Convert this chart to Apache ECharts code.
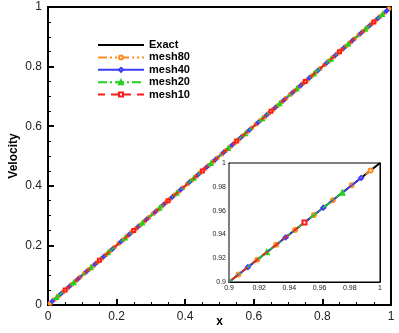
<!DOCTYPE html>
<html>
<head>
<meta charset="utf-8">
<script src="https://cdn.jsdelivr.net/npm/echarts@6/dist/echarts.min.js"></script>
<style>
  html, body { margin: 0; padding: 0; background: #fff; }
  #chart { width: 399px; height: 333px; }
</style>
</head>
<body>
<div id="chart"></div>
<script>
// exact solution
var xExact = [0, 1];
var vExact = [0, 1];

// mesh80 (cell centres)
var x80 = [
  0.00625, 0.01875, 0.03125, 0.04375, 0.05625, 0.06875, 0.08125, 0.09375,
  0.10625, 0.11875, 0.13125, 0.14375, 0.15625, 0.16875, 0.18125, 0.19375,
  0.20625, 0.21875, 0.23125, 0.24375, 0.25625, 0.26875, 0.28125, 0.29375,
  0.30625, 0.31875, 0.33125, 0.34375, 0.35625, 0.36875, 0.38125, 0.39375,
  0.40625, 0.41875, 0.43125, 0.44375, 0.45625, 0.46875, 0.48125, 0.49375,
  0.50625, 0.51875, 0.53125, 0.54375, 0.55625, 0.56875, 0.58125, 0.59375,
  0.60625, 0.61875, 0.63125, 0.64375, 0.65625, 0.66875, 0.68125, 0.69375,
  0.70625, 0.71875, 0.73125, 0.74375, 0.75625, 0.76875, 0.78125, 0.79375,
  0.80625, 0.81875, 0.83125, 0.84375, 0.85625, 0.86875, 0.88125, 0.89375,
  0.90625, 0.91875, 0.93125, 0.94375, 0.95625, 0.96875, 0.98125, 0.99375
];
var v80 = [
  0.00625, 0.01875, 0.03125, 0.04375, 0.05625, 0.06875, 0.08125, 0.09375,
  0.10625, 0.11875, 0.13125, 0.14375, 0.15625, 0.16875, 0.18125, 0.19375,
  0.20625, 0.21875, 0.23125, 0.24375, 0.25625, 0.26875, 0.28125, 0.29375,
  0.30625, 0.31875, 0.33125, 0.34375, 0.35625, 0.36875, 0.38125, 0.39375,
  0.40625, 0.41875, 0.43125, 0.44375, 0.45625, 0.46875, 0.48125, 0.49375,
  0.50625, 0.51875, 0.53125, 0.54375, 0.55625, 0.56875, 0.58125, 0.59375,
  0.60625, 0.61875, 0.63125, 0.64375, 0.65625, 0.66875, 0.68125, 0.69375,
  0.70625, 0.71875, 0.73125, 0.74375, 0.75625, 0.76875, 0.78125, 0.79375,
  0.80625, 0.81875, 0.83125, 0.84375, 0.85625, 0.86875, 0.88125, 0.89375,
  0.90625, 0.91875, 0.93125, 0.94375, 0.95625, 0.96875, 0.98125, 0.99375
];

// mesh40
var x40 = [
  0.0125, 0.0375, 0.0625, 0.0875, 0.1125, 0.1375, 0.1625, 0.1875,
  0.2125, 0.2375, 0.2625, 0.2875, 0.3125, 0.3375, 0.3625, 0.3875,
  0.4125, 0.4375, 0.4625, 0.4875, 0.5125, 0.5375, 0.5625, 0.5875,
  0.6125, 0.6375, 0.6625, 0.6875, 0.7125, 0.7375, 0.7625, 0.7875,
  0.8125, 0.8375, 0.8625, 0.8875, 0.9125, 0.9375, 0.9625, 0.9875
];
var v40 = [
  0.0125, 0.0375, 0.0625, 0.0875, 0.1125, 0.1375, 0.1625, 0.1875,
  0.2125, 0.2375, 0.2625, 0.2875, 0.3125, 0.3375, 0.3625, 0.3875,
  0.4125, 0.4375, 0.4625, 0.4875, 0.5125, 0.5375, 0.5625, 0.5875,
  0.6125, 0.6375, 0.6625, 0.6875, 0.7125, 0.7375, 0.7625, 0.7875,
  0.8125, 0.8375, 0.8625, 0.8875, 0.9125, 0.9375, 0.9625, 0.9875
];

// mesh20
var x20 = [
  0.025, 0.075, 0.125, 0.175, 0.225, 0.275, 0.325, 0.375, 0.425, 0.475,
  0.525, 0.575, 0.625, 0.675, 0.725, 0.775, 0.825, 0.875, 0.925, 0.975
];
var v20 = [
  0.025, 0.075, 0.125, 0.175, 0.225, 0.275, 0.325, 0.375, 0.425, 0.475,
  0.525, 0.575, 0.625, 0.675, 0.725, 0.775, 0.825, 0.875, 0.925, 0.975
];

// mesh10
var x10 = [0.05, 0.15, 0.25, 0.35, 0.45, 0.55, 0.65, 0.75, 0.85, 0.95];
var v10 = [0.05, 0.15, 0.25, 0.35, 0.45, 0.55, 0.65, 0.75, 0.85, 0.95];

var names = ['Exact', 'mesh80', 'mesh40', 'mesh20', 'mesh10'];
var xs = [xExact, x80, x40, x20, x10];
var vs = [vExact, v80, v40, v20, v10];

var colors = ['#000000', '#ff8c1a', '#3b3bff', '#1fd11f', '#ff1a1a'];
var symbols = ['none', 'emptyCircle', 'emptyDiamond', 'emptyTriangle', 'emptyRect'];
var dashes = ['solid', [9, 3, 2, 3, 2, 3], 'solid', [9, 3, 2, 3], [7, 6]];

var font = 'Liberation Sans, Arial, sans-serif';

function pairs(a, b) {
  var out = [];
  for (var i = 0; i < a.length; i++) out.push([a[i], b[i]]);
  return out;
}

var chart = echarts.init(document.getElementById('chart'), null, { renderer: 'canvas' });

var series = [];
[0, 1].forEach(function (g) {
  names.forEach(function (n, k) {
    series.push({
      name: n,
      type: 'line',
      xAxisIndex: g,
      yAxisIndex: g,
      data: pairs(xs[k], vs[k]),
      symbol: symbols[k],
      symbolSize: g === 0 ? 3 : 4,
      showSymbol: true,
      clip: true,
      silent: true,
      animation: false,
      z: 2 + k + g * 10,
      lineStyle: { color: colors[k], width: k === 0 ? 2 : 1.5, type: dashes[k] },
      itemStyle: { color: colors[k], borderWidth: 1 }
    });
  });
});

function mainAxis(isX) {
  return {
    type: 'value',
    gridIndex: 0,
    min: 0, max: 1, interval: 0.2,
    name: isX ? 'x' : 'Velocity',
    nameLocation: 'middle',
    nameGap: isX ? 11 : 28,
    nameMoveOverlap: false,
    nameTextStyle: { fontFamily: font, fontWeight: 'bold', fontSize: 12, color: '#000' },
    axisLine: { show: true, onZero: false, lineStyle: { color: '#000', width: 2 } },
    axisTick: { show: true, inside: true, length: 6, lineStyle: { color: '#000', width: 2 } },
    minorTick: { show: true, splitNumber: 4, length: 3, lineStyle: { color: '#000', width: 1 } },
    axisLabel: { fontFamily: font, fontSize: 12, color: '#222', margin: 6 },
    splitLine: { show: false }
  };
}

function insetAxis(isX) {
  return {
    type: 'value',
    gridIndex: 1,
    min: 0.9, max: 1, interval: 0.02,
    axisLine: { show: true, onZero: false, lineStyle: { color: '#000', width: 1 } },
    axisTick: { show: true, inside: true, length: 4, lineStyle: { color: '#000' } },
    minorTick: { show: true, splitNumber: 4, length: 2, lineStyle: { color: '#000' } },
    axisLabel: {
      fontFamily: font, fontSize: 7, color: '#222', margin: 3,
      formatter: function (v) { return String(+v.toFixed(2)); }
    },
    splitLine: { show: false }
  };
}

function mirror(isX) {
  var a = insetAxis(isX);
  a.position = isX ? 'top' : 'right';
  a.axisLabel = { show: false };
  return a;
}

var legendData = names.map(function (n, k) {
  // plain line for the exact solution
  return k === 0 ? { name: n, icon: 'path://M0 0H46V2H0Z' } : { name: n };
});

chart.setOption({
  backgroundColor: '#fff',
  animation: false,
  legend: {
    data: legendData,
    orient: 'vertical',
    left: 97,
    top: 39,
    padding: 0,
    itemWidth: 46,
    itemHeight: 5,
    itemGap: 0.4,
    selectedMode: false,
    textStyle: { fontFamily: font, fontWeight: 'bold', fontSize: 11, lineHeight: 12, color: '#000' }
  },
  grid: [
    { left: 48, right: 8, top: 7, bottom: 28, outerBoundsMode: 'none', show: true, borderColor: '#000', borderWidth: 2, backgroundColor: 'transparent' },
    { left: 229, top: 163, width: 151, height: 119, outerBoundsMode: 'none', show: true, borderColor: '#000', borderWidth: 1, backgroundColor: '#fff', z: 5 }
  ],
  xAxis: [mainAxis(true), insetAxis(true), mirror(true)],
  yAxis: [mainAxis(false), insetAxis(false), mirror(false)],
  series: series
});
</script>
</body>
</html>
